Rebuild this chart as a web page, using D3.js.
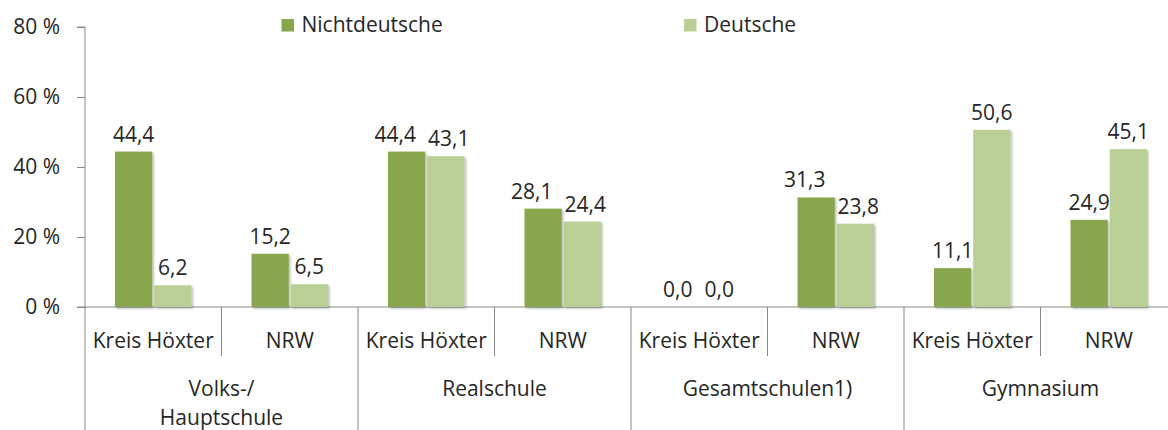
<!DOCTYPE html>
<html>
<head>
<meta charset="utf-8">
<script src="https://cdn.jsdelivr.net/npm/d3@7"></script>
<style>
  body { margin: 0; background: #fff; }
  svg { display: block; font-family: 'Open Sans', sans-serif; }
  text { fill: #262626; }
</style>
</head>
<body>
<svg id="chart"></svg>
<script>
// data
const groups = [['Volks-/', 'Hauptschule'], ['Realschule'], ['Gesamtschulen1)'], ['Gymnasium']];
const regions = ['Kreis Höxter', 'NRW'];
const seriesNames = ['Nichtdeutsche', 'Deutsche'];
const nichtdeutsche = [44.4, 15.2, 44.4, 28.1, 0.0, 31.3, 11.1, 24.9];
const deutsche = [6.2, 6.5, 43.1, 24.4, 0.0, 23.8, 50.6, 45.1];
const yTicks = [0, 20, 40, 60, 80];

const colors = ['#88a64b', '#b9cf96'];
const W = 1168, H = 430;
const plotLeft = 85, plotTop = 27, base = 307;
const fs = '21px';

// one entry per group/region pair
const cells = [];
groups.forEach((g, gi) => regions.forEach((r, ri) => {
  const i = gi * regions.length + ri;
  cells.push({ key: i, group: gi, region: r, values: [nichtdeutsche[i], deutsche[i]] });
}));

const svg = d3.select('#chart').attr('width', W).attr('height', H);

const defs = svg.append('defs');
const f = defs.append('filter').attr('id', 'shadow')
  .attr('x', '-20%').attr('y', '-20%').attr('width', '150%').attr('height', '150%');
f.append('feDropShadow').attr('dx', 1.5).attr('dy', 1.5).attr('stdDeviation', 1.2)
  .attr('flood-color', '#000').attr('flood-opacity', 0.28);

const x0 = d3.scaleBand().domain(cells.map(d => d.key)).range([plotLeft, plotLeft + 8 * 136.5]);
const bw = x0.bandwidth();
const x1 = d3.scaleBand().domain(seriesNames).range([bw * 0.22, bw * 0.78]).paddingInner(0.05);
const y = d3.scaleLinear().domain([0, 80]).range([base, plotTop]);

// y axis
const yAxis = svg.append('g')
  .attr('transform', `translate(${plotLeft},0)`)
  .call(d3.axisLeft(y).tickValues(yTicks).tickSize(8).tickPadding(17).tickFormat(d => d + ' %'));
yAxis.select('.domain').attr('stroke', '#898989').attr('d', `M-8,${plotTop}H0V${H}`);
yAxis.selectAll('.tick line').attr('stroke', '#898989');
yAxis.selectAll('.tick text').style('font-size', fs).attr('fill', '#262626')
  .style('font-family', "'Open Sans', sans-serif");

// baseline + separators
svg.append('line').attr('x1', plotLeft - 8).attr('x2', W).attr('y1', base).attr('y2', base)
  .attr('stroke', '#898989');
svg.selectAll('.sep')
  .data(cells.slice(1).map(d => d.key))
  .enter().append('line')
  .attr('x1', d => x0(d)).attr('x2', d => x0(d))
  .attr('y1', base).attr('y2', d => d % 2 === 0 ? H : 356)
  .attr('stroke', '#898989');

// bars
const cg = svg.selectAll('.cell').data(cells).enter().append('g')
  .attr('transform', d => `translate(${x0(d.key)},0)`);

cg.selectAll('rect')
  .data(d => d.values.map((v, i) => ({ s: seriesNames[i], v, i })))
  .enter().append('rect')
  .attr('x', d => x1(d.s))
  .attr('y', d => y(d.v))
  .attr('width', x1.bandwidth())
  .attr('height', d => base - y(d.v))
  .attr('fill', d => colors[d.i])
  .attr('filter', 'url(#shadow)');

cg.each(function() {
  const labels = d3.select(this).selectAll('.lbl')
    .data(d => d.values.map((v, i) => ({ s: seriesNames[i], v })))
    .enter().append('text')
    .attr('class', 'lbl')
    .attr('x', d => x1(d.s) + x1.bandwidth() / 2)
    .attr('y', d => y(d.v) - 10)
    .attr('text-anchor', 'middle')
    .style('font-size', fs)
    .text(d => d3.format('.1f')(d.v).replace('.', ','));

  // push the two labels apart when their boxes would touch, like the spreadsheet did
  const nodes = labels.nodes();
  const a = nodes[0], b = nodes[1];
  const ya = +a.getAttribute('y'), yb = +b.getAttribute('y');
  if (Math.abs(ya - yb) < 30) {
    const wa = a.getComputedTextLength(), wb = b.getComputedTextLength();
    const xa = +a.getAttribute('x'), xb = +b.getAttribute('x');
    const over = (xa + wa / 2 + 12) - (xb - wb / 2);
    if (over > 0) {
      a.setAttribute('x', xa - over * 0.8);
      b.setAttribute('x', xb + over * 0.2);
    }
  }
});

// region labels
cg.append('text')
  .attr('x', bw / 2).attr('y', 348)
  .attr('text-anchor', 'middle')
  .style('font-size', fs)
  .text(d => d.region);

// group labels
svg.selectAll('.grp').data(groups).enter().append('text')
  .attr('x', (d, i) => x0(i * 2) + bw)
  .attr('y', 396)
  .attr('text-anchor', 'middle')
  .style('font-size', fs)
  .each(function(d) {
    d3.select(this).selectAll('tspan').data(d).enter().append('tspan')
      .attr('x', d3.select(this).attr('x'))
      .attr('dy', (t, i) => i === 0 ? 0 : 28.5)
      .text(t => t);
  });

// legend
const legX = [281.5, 684];
const leg = svg.selectAll('.leg').data(seriesNames).enter().append('g')
  .attr('transform', (d, i) => `translate(${legX[i]},0)`);
leg.append('rect').attr('x', 0).attr('y', 19).attr('width', 12.5).attr('height', 12.5)
  .attr('fill', (d, i) => colors[i]);
leg.append('text').attr('x', 20).attr('y', 32).style('font-size', fs).text(d => d);
</script>
</body>
</html>
